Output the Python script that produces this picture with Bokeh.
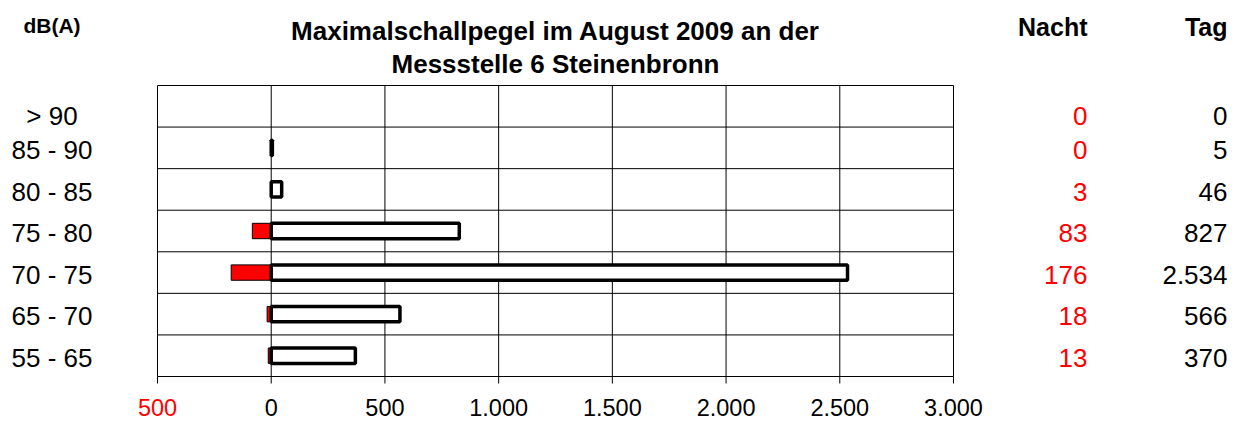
from bokeh.plotting import figure
from bokeh.models import Range1d, ColumnDataSource
from bokeh.embed import file_html
from bokeh.resources import INLINE
from bokeh.core.properties import value

# ---------------- data ----------------
categories = ["> 90", "85 - 90", "80 - 85", "75 - 80", "70 - 75", "65 - 70", "55 - 65"]
nacht = [0, 0, 3, 83, 176, 18, 13]
tag = [0, 5, 46, 827, 2534, 566, 370]
x_ticks = [-500, 0, 500, 1000, 1500, 2000, 2500, 3000]
x_tick_labels = ["500", "0", "500", "1.000", "1.500", "2.000", "2.500", "3.000"]
x_tick_colors = ["red", "black", "black", "black", "black", "black", "black", "black"]
title_lines = ["Maximalschallpegel im August 2009 an der", "Messstelle 6 Steinenbronn"]
unit_label = "dB(A)"
col_headers = ["Nacht", "Tag"]

# ---------------- layout (pixels) ----------------
W, H = 1236, 420
BL, BR, BT, BB = 157, 953, 85, 376        # chart box edges
XMIN, XMAX = x_ticks[0], x_ticks[-1]
n = len(categories)
FONT = "Liberation Sans"
KX = (XMAX - XMIN) / (BR - BL)             # data units per px (x)
PPU = (BB - BT) / n                        # px per unit (y)


def dx(px):
    return XMIN + (px - BL) * KX


def dy(py):
    return n - (py - BT) / PPU


def ty(py, fs):
    # baseline pixel -> data y (compensates the renderer's baseline offset)
    return dy(py - 0.4 * fs)


def fmt(v):
    return f"{v:,}".replace(",", ".")


p = figure(width=W, height=H, output_backend="svg", toolbar_location=None,
           x_range=Range1d(dx(0), dx(W)), y_range=Range1d(dy(H), dy(0)),
           x_axis_location=None, y_axis_location=None, min_border=0)
p.outline_line_color = None
p.background_fill_color = "white"
p.border_fill_color = "white"
for g in p.center:
    g.visible = False

# chart box, grid lines and ticks
p.quad(left=[XMIN], right=[XMAX], bottom=[0], top=[n], fill_color="white",
       line_color="black", line_width=1)
inner = x_ticks[1:-1]
p.segment(x0=inner, y0=[0] * len(inner), x1=inner, y1=[n] * len(inner),
          line_color="black", line_width=1)
rows = list(range(1, n))
p.segment(x0=[XMIN] * len(rows), y0=rows, x1=[XMAX] * len(rows), y1=rows,
          line_color="black", line_width=1)
tick_len = 7 / PPU
p.segment(x0=x_ticks, y0=[0] * len(x_ticks), x1=x_ticks, y1=[-tick_len] * len(x_ticks),
          line_color="black", line_width=1)

# bars
ys = [n - i - 0.5 for i in range(n)]
red_idx = [i for i in range(n) if nacht[i] > 0]
tag_idx = [i for i in range(n) if tag[i] > 0]
BH = 0.37
p.hbar(y=[ys[i] for i in red_idx], left=[-nacht[i] for i in red_idx], right=0,
       height=BH, fill_color="#FF0000", line_color="black", line_width=1)
p.hbar(y=[ys[i] for i in tag_idx], left=0, right=[tag[i] for i in tag_idx],
       height=BH, fill_color="white", line_color="black", line_width=3.5)

# tick labels
FS_T = 23.5
tick_src = ColumnDataSource(dict(x=x_ticks, y=[ty(416, FS_T)] * len(x_ticks),
                                 text=x_tick_labels, color=x_tick_colors))
p.text(x="x", y="y", text="text", text_color="color", source=tick_src,
       text_font=value(FONT), text_font_size=value(f"{FS_T}px"),
       text_align="center", text_baseline="alphabetic")

# row texts (first row sits a little lower, the rest follow the chart rows)
FS_R = 26
row_px = [125.5] + [160.3 + 41.5 * (i - 1) for i in range(1, n)]
row_base = [ty(v, FS_R) for v in row_px]
p.text(x=[dx(51.5)] * n, y=row_base, text=categories, text_color="black",
       text_font=value(FONT), text_font_size=value(f"{FS_R}px"),
       text_align="center", text_baseline="alphabetic")
p.text(x=[dx(1087)] * n, y=row_base, text=[fmt(v) for v in nacht], text_color="red",
       text_font=value(FONT), text_font_size=value(f"{FS_R}px"),
       text_align="right", text_baseline="alphabetic")
p.text(x=[dx(1227)] * n, y=row_base, text=[fmt(v) for v in tag], text_color="black",
       text_font=value(FONT), text_font_size=value(f"{FS_R}px"),
       text_align="right", text_baseline="alphabetic")

# headers
FS_H = 25
p.text(x=[dx(1087), dx(1227)], y=[ty(36, FS_H)] * 2, text=col_headers, text_color="black",
       text_font=value(FONT), text_font_size=value(f"{FS_H}px"), text_font_style="bold",
       text_align="right", text_baseline="alphabetic")
FS_U = 21
p.text(x=[dx(51.5)], y=[ty(33.5, FS_U)], text=[unit_label], text_color="black",
       text_font=value(FONT), text_font_size=value(f"{FS_U}px"), text_font_style="bold",
       text_align="center", text_baseline="alphabetic")

# title (centred over the chart box)
FS_TI = 26
p.text(x=[dx((BL + BR) / 2)] * 2, y=[ty(41, FS_TI), ty(74, FS_TI)], text=title_lines,
       text_color="black", text_font=value(FONT), text_font_size=value(f"{FS_TI}px"),
       text_font_style="bold", text_align="center", text_baseline="alphabetic")

open("out.html", "w").write(file_html(p, INLINE))
